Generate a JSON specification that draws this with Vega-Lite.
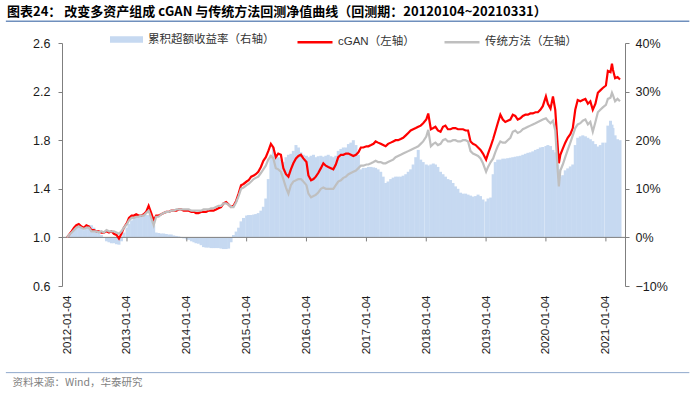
{
  "$schema": "https://vega.github.io/schema/vega-lite/v6.json",
  "width": 563,
  "height": 243,
  "autosize": {"type": "none"},
  "padding": {"left": 62, "top": 43, "right": 75, "bottom": 113},
  "title": {
    "text": "图表24：  改变多资产组成 cGAN 与传统方法回测净值曲线（回测期：20120104~20210331）",
    "anchor": "start", "frame": "group", "dx": -55, "dy": 3, "fontSize": 13, "fontWeight": "bold",
    "font": "Noto Sans CJK SC", "color": "#000000", "offset": 4
  },
  "config": {
    "view": {"stroke": null},
    "font": "Liberation Sans, Noto Sans CJK SC",
    "axis": {"labelFont": "Liberation Sans", "labelColor": "#1a1a1a", "grid": false, "title": null}
  },
  "data": {
    "values": [
      {"d":"2012-01-04","c":1.00,"t":1.00,"e":0.000},
      {"d":"2012-01-16","c":1.02,"t":1.02,"e":0.005},
      {"d":"2012-02-01","c":1.05,"t":1.04,"e":0.012},
      {"d":"2012-02-16","c":1.08,"t":1.06,"e":0.018},
      {"d":"2012-03-01","c":1.10,"t":1.08,"e":0.022},
      {"d":"2012-03-16","c":1.11,"t":1.09,"e":0.025},
      {"d":"2012-04-01","c":1.09,"t":1.08,"e":0.020},
      {"d":"2012-04-16","c":1.08,"t":1.07,"e":0.015},
      {"d":"2012-05-01","c":1.10,"t":1.08,"e":0.020},
      {"d":"2012-05-16","c":1.09,"t":1.08,"e":0.025},
      {"d":"2012-06-01","c":1.06,"t":1.05,"e":0.025},
      {"d":"2012-06-16","c":1.06,"t":1.05,"e":0.020},
      {"d":"2012-07-01","c":1.05,"t":1.05,"e":0.015},
      {"d":"2012-07-16","c":1.05,"t":1.04,"e":0.010},
      {"d":"2012-08-01","c":1.04,"t":1.05,"e":0.005},
      {"d":"2012-08-16","c":1.04,"t":1.04,"e":0.000},
      {"d":"2012-09-01","c":1.05,"t":1.06,"e":-0.008},
      {"d":"2012-09-16","c":1.04,"t":1.05,"e":-0.010},
      {"d":"2012-10-01","c":1.05,"t":1.05,"e":-0.012},
      {"d":"2012-10-16","c":1.03,"t":1.05,"e":-0.012},
      {"d":"2012-11-01","c":1.02,"t":1.04,"e":-0.014},
      {"d":"2012-11-16","c":0.99,"t":1.03,"e":-0.015},
      {"d":"2012-12-01","c":1.03,"t":1.05,"e":-0.008},
      {"d":"2012-12-16","c":1.08,"t":1.08,"e":0.010},
      {"d":"2013-01-04","c":1.12,"t":1.11,"e":0.020},
      {"d":"2013-01-16","c":1.16,"t":1.14,"e":0.028},
      {"d":"2013-02-01","c":1.18,"t":1.16,"e":0.035},
      {"d":"2013-02-16","c":1.18,"t":1.16,"e":0.040},
      {"d":"2013-03-01","c":1.19,"t":1.17,"e":0.043},
      {"d":"2013-03-16","c":1.18,"t":1.17,"e":0.044},
      {"d":"2013-04-01","c":1.18,"t":1.18,"e":0.045},
      {"d":"2013-04-16","c":1.19,"t":1.18,"e":0.046},
      {"d":"2013-05-01","c":1.21,"t":1.20,"e":0.046},
      {"d":"2013-05-16","c":1.26,"t":1.22,"e":0.046},
      {"d":"2013-06-01","c":1.20,"t":1.16,"e":0.040},
      {"d":"2013-06-16","c":1.14,"t":1.10,"e":0.025},
      {"d":"2013-07-01","c":1.18,"t":1.17,"e":0.010},
      {"d":"2013-07-16","c":1.18,"t":1.17,"e":0.009},
      {"d":"2013-08-01","c":1.19,"t":1.19,"e":0.008},
      {"d":"2013-08-16","c":1.20,"t":1.20,"e":0.008},
      {"d":"2013-09-01","c":1.21,"t":1.21,"e":0.007},
      {"d":"2013-09-16","c":1.21,"t":1.21,"e":0.006},
      {"d":"2013-10-01","c":1.22,"t":1.22,"e":0.006},
      {"d":"2013-10-16","c":1.22,"t":1.22,"e":0.004},
      {"d":"2013-11-01","c":1.22,"t":1.23,"e":0.003},
      {"d":"2013-11-16","c":1.23,"t":1.23,"e":0.002},
      {"d":"2013-12-01","c":1.23,"t":1.23,"e":0.001},
      {"d":"2013-12-16","c":1.22,"t":1.23,"e":-0.002},
      {"d":"2014-01-04","c":1.22,"t":1.23,"e":-0.004},
      {"d":"2014-01-16","c":1.22,"t":1.23,"e":-0.005},
      {"d":"2014-02-01","c":1.21,"t":1.22,"e":-0.008},
      {"d":"2014-02-16","c":1.21,"t":1.22,"e":-0.010},
      {"d":"2014-03-01","c":1.20,"t":1.22,"e":-0.012},
      {"d":"2014-03-16","c":1.20,"t":1.22,"e":-0.013},
      {"d":"2014-04-01","c":1.21,"t":1.22,"e":-0.016},
      {"d":"2014-04-16","c":1.21,"t":1.23,"e":-0.020},
      {"d":"2014-05-01","c":1.21,"t":1.23,"e":-0.021},
      {"d":"2014-05-16","c":1.22,"t":1.23,"e":-0.021},
      {"d":"2014-06-01","c":1.22,"t":1.24,"e":-0.022},
      {"d":"2014-06-16","c":1.22,"t":1.24,"e":-0.022},
      {"d":"2014-07-01","c":1.23,"t":1.25,"e":-0.022},
      {"d":"2014-07-16","c":1.24,"t":1.26,"e":-0.022},
      {"d":"2014-08-01","c":1.25,"t":1.26,"e":-0.023},
      {"d":"2014-08-16","c":1.28,"t":1.28,"e":-0.024},
      {"d":"2014-09-01","c":1.29,"t":1.28,"e":-0.024},
      {"d":"2014-09-16","c":1.27,"t":1.27,"e":-0.023},
      {"d":"2014-10-01","c":1.25,"t":1.25,"e":-0.010},
      {"d":"2014-10-16","c":1.26,"t":1.25,"e":0.005},
      {"d":"2014-11-01","c":1.30,"t":1.29,"e":0.012},
      {"d":"2014-11-16","c":1.36,"t":1.34,"e":0.020},
      {"d":"2014-12-01","c":1.43,"t":1.40,"e":0.033},
      {"d":"2014-12-16","c":1.44,"t":1.41,"e":0.040},
      {"d":"2015-01-04","c":1.46,"t":1.43,"e":0.045},
      {"d":"2015-01-16","c":1.47,"t":1.44,"e":0.046},
      {"d":"2015-02-01","c":1.50,"t":1.46,"e":0.046},
      {"d":"2015-02-16","c":1.51,"t":1.48,"e":0.047},
      {"d":"2015-03-01","c":1.52,"t":1.49,"e":0.048},
      {"d":"2015-03-16","c":1.54,"t":1.50,"e":0.050},
      {"d":"2015-04-01","c":1.58,"t":1.53,"e":0.055},
      {"d":"2015-04-16","c":1.63,"t":1.56,"e":0.063},
      {"d":"2015-05-01","c":1.66,"t":1.59,"e":0.080},
      {"d":"2015-05-16","c":1.71,"t":1.64,"e":0.120},
      {"d":"2015-06-01","c":1.77,"t":1.67,"e":0.170},
      {"d":"2015-06-16","c":1.74,"t":1.65,"e":0.185},
      {"d":"2015-07-01","c":1.66,"t":1.57,"e":0.170},
      {"d":"2015-07-16","c":1.69,"t":1.56,"e":0.165},
      {"d":"2015-08-01","c":1.68,"t":1.54,"e":0.160},
      {"d":"2015-08-16","c":1.57,"t":1.48,"e":0.155},
      {"d":"2015-09-01","c":1.52,"t":1.41,"e":0.165},
      {"d":"2015-09-16","c":1.50,"t":1.36,"e":0.170},
      {"d":"2015-10-01","c":1.56,"t":1.43,"e":0.172},
      {"d":"2015-10-16","c":1.61,"t":1.46,"e":0.178},
      {"d":"2015-11-01","c":1.65,"t":1.47,"e":0.190},
      {"d":"2015-11-16","c":1.67,"t":1.48,"e":0.185},
      {"d":"2015-12-01","c":1.68,"t":1.48,"e":0.175},
      {"d":"2015-12-16","c":1.65,"t":1.46,"e":0.170},
      {"d":"2016-01-04","c":1.62,"t":1.43,"e":0.168},
      {"d":"2016-01-16","c":1.51,"t":1.36,"e":0.165},
      {"d":"2016-02-01","c":1.47,"t":1.33,"e":0.168},
      {"d":"2016-02-16","c":1.48,"t":1.34,"e":0.170},
      {"d":"2016-03-01","c":1.50,"t":1.35,"e":0.165},
      {"d":"2016-03-16","c":1.53,"t":1.37,"e":0.167},
      {"d":"2016-04-01","c":1.57,"t":1.40,"e":0.168},
      {"d":"2016-04-16","c":1.61,"t":1.41,"e":0.166},
      {"d":"2016-05-01","c":1.59,"t":1.40,"e":0.168},
      {"d":"2016-05-16","c":1.58,"t":1.40,"e":0.170},
      {"d":"2016-06-01","c":1.57,"t":1.40,"e":0.167},
      {"d":"2016-06-16","c":1.56,"t":1.40,"e":0.165},
      {"d":"2016-07-01","c":1.60,"t":1.43,"e":0.168},
      {"d":"2016-07-16","c":1.66,"t":1.46,"e":0.178},
      {"d":"2016-08-01","c":1.68,"t":1.47,"e":0.182},
      {"d":"2016-08-16","c":1.68,"t":1.49,"e":0.185},
      {"d":"2016-09-01","c":1.69,"t":1.50,"e":0.185},
      {"d":"2016-09-16","c":1.69,"t":1.52,"e":0.192},
      {"d":"2016-10-01","c":1.68,"t":1.53,"e":0.195},
      {"d":"2016-10-16","c":1.67,"t":1.54,"e":0.200},
      {"d":"2016-11-01","c":1.68,"t":1.55,"e":0.190},
      {"d":"2016-11-16","c":1.70,"t":1.57,"e":0.170},
      {"d":"2016-12-01","c":1.74,"t":1.59,"e":0.140},
      {"d":"2016-12-16","c":1.74,"t":1.59,"e":0.143},
      {"d":"2017-01-04","c":1.75,"t":1.60,"e":0.143},
      {"d":"2017-01-16","c":1.75,"t":1.60,"e":0.145},
      {"d":"2017-02-01","c":1.76,"t":1.61,"e":0.145},
      {"d":"2017-02-16","c":1.77,"t":1.62,"e":0.144},
      {"d":"2017-03-01","c":1.79,"t":1.63,"e":0.143},
      {"d":"2017-03-16","c":1.78,"t":1.62,"e":0.140},
      {"d":"2017-04-01","c":1.77,"t":1.62,"e":0.135},
      {"d":"2017-04-16","c":1.76,"t":1.61,"e":0.125},
      {"d":"2017-05-01","c":1.75,"t":1.61,"e":0.112},
      {"d":"2017-05-16","c":1.77,"t":1.62,"e":0.115},
      {"d":"2017-06-01","c":1.78,"t":1.63,"e":0.120},
      {"d":"2017-06-16","c":1.79,"t":1.64,"e":0.123},
      {"d":"2017-07-01","c":1.80,"t":1.66,"e":0.125},
      {"d":"2017-07-16","c":1.80,"t":1.67,"e":0.125},
      {"d":"2017-08-01","c":1.81,"t":1.68,"e":0.125},
      {"d":"2017-08-16","c":1.82,"t":1.69,"e":0.127},
      {"d":"2017-09-01","c":1.84,"t":1.70,"e":0.130},
      {"d":"2017-09-16","c":1.86,"t":1.71,"e":0.135},
      {"d":"2017-10-01","c":1.88,"t":1.72,"e":0.140},
      {"d":"2017-10-16","c":1.89,"t":1.73,"e":0.150},
      {"d":"2017-11-01","c":1.90,"t":1.74,"e":0.165},
      {"d":"2017-11-16","c":1.91,"t":1.75,"e":0.180},
      {"d":"2017-12-01","c":1.92,"t":1.77,"e":0.160},
      {"d":"2017-12-16","c":1.94,"t":1.79,"e":0.155},
      {"d":"2018-01-04","c":1.97,"t":1.83,"e":0.150},
      {"d":"2018-01-16","c":2.02,"t":1.885,"e":0.148},
      {"d":"2018-02-01","c":1.89,"t":1.75,"e":0.150},
      {"d":"2018-02-16","c":1.90,"t":1.77,"e":0.152},
      {"d":"2018-03-01","c":1.91,"t":1.78,"e":0.150},
      {"d":"2018-03-16","c":1.88,"t":1.76,"e":0.145},
      {"d":"2018-04-01","c":1.87,"t":1.77,"e":0.135},
      {"d":"2018-04-16","c":1.91,"t":1.80,"e":0.130},
      {"d":"2018-05-01","c":1.92,"t":1.81,"e":0.125},
      {"d":"2018-05-16","c":1.89,"t":1.79,"e":0.120},
      {"d":"2018-06-01","c":1.89,"t":1.79,"e":0.118},
      {"d":"2018-06-16","c":1.90,"t":1.80,"e":0.112},
      {"d":"2018-07-01","c":1.90,"t":1.80,"e":0.105},
      {"d":"2018-07-16","c":1.89,"t":1.79,"e":0.100},
      {"d":"2018-08-01","c":1.89,"t":1.79,"e":0.092},
      {"d":"2018-08-16","c":1.89,"t":1.80,"e":0.090},
      {"d":"2018-09-01","c":1.88,"t":1.80,"e":0.090},
      {"d":"2018-09-16","c":1.88,"t":1.79,"e":0.088},
      {"d":"2018-10-01","c":1.79,"t":1.71,"e":0.086},
      {"d":"2018-10-16","c":1.77,"t":1.69,"e":0.084},
      {"d":"2018-11-01","c":1.76,"t":1.68,"e":0.085},
      {"d":"2018-11-16","c":1.74,"t":1.67,"e":0.088},
      {"d":"2018-12-01","c":1.72,"t":1.65,"e":0.085},
      {"d":"2018-12-16","c":1.69,"t":1.61,"e":0.078},
      {"d":"2019-01-04","c":1.64,"t":1.54,"e":0.074},
      {"d":"2019-01-16","c":1.69,"t":1.58,"e":0.080},
      {"d":"2019-02-01","c":1.75,"t":1.62,"e":0.082},
      {"d":"2019-02-16","c":1.81,"t":1.65,"e":0.130},
      {"d":"2019-03-01","c":1.87,"t":1.70,"e":0.155},
      {"d":"2019-03-16","c":1.94,"t":1.75,"e":0.160},
      {"d":"2019-04-01","c":2.01,"t":1.79,"e":0.160},
      {"d":"2019-04-16","c":1.97,"t":1.78,"e":0.162},
      {"d":"2019-05-01","c":1.95,"t":1.78,"e":0.162},
      {"d":"2019-05-16","c":1.96,"t":1.80,"e":0.163},
      {"d":"2019-06-01","c":1.97,"t":1.82,"e":0.164},
      {"d":"2019-06-16","c":2.01,"t":1.87,"e":0.165},
      {"d":"2019-07-01","c":2.00,"t":1.88,"e":0.166},
      {"d":"2019-07-16","c":1.97,"t":1.86,"e":0.167},
      {"d":"2019-08-01","c":1.98,"t":1.87,"e":0.168},
      {"d":"2019-08-16","c":2.00,"t":1.89,"e":0.170},
      {"d":"2019-09-01","c":2.01,"t":1.90,"e":0.172},
      {"d":"2019-09-16","c":2.01,"t":1.91,"e":0.174},
      {"d":"2019-10-01","c":2.02,"t":1.92,"e":0.175},
      {"d":"2019-10-16","c":2.02,"t":1.93,"e":0.177},
      {"d":"2019-11-01","c":2.03,"t":1.94,"e":0.180},
      {"d":"2019-11-16","c":2.03,"t":1.95,"e":0.182},
      {"d":"2019-12-01","c":2.05,"t":1.96,"e":0.185},
      {"d":"2019-12-16","c":2.08,"t":1.97,"e":0.186},
      {"d":"2020-01-04","c":2.16,"t":1.98,"e":0.188},
      {"d":"2020-01-16","c":2.10,"t":1.96,"e":0.190},
      {"d":"2020-02-01","c":2.06,"t":1.94,"e":0.188},
      {"d":"2020-02-16","c":2.16,"t":1.96,"e":0.180},
      {"d":"2020-03-01","c":2.05,"t":1.88,"e":0.175},
      {"d":"2020-03-16","c":1.75,"t":1.55,"e":0.150},
      {"d":"2020-03-23","c":1.61,"t":1.42,"e":0.140},
      {"d":"2020-04-01","c":1.68,"t":1.55,"e":0.125},
      {"d":"2020-04-16","c":1.73,"t":1.60,"e":0.128},
      {"d":"2020-05-01","c":1.78,"t":1.66,"e":0.138},
      {"d":"2020-05-16","c":1.82,"t":1.72,"e":0.142},
      {"d":"2020-06-01","c":1.85,"t":1.78,"e":0.146},
      {"d":"2020-06-16","c":1.90,"t":1.84,"e":0.150},
      {"d":"2020-07-01","c":2.05,"t":1.90,"e":0.190},
      {"d":"2020-07-16","c":2.13,"t":1.93,"e":0.205},
      {"d":"2020-08-01","c":2.12,"t":1.94,"e":0.208},
      {"d":"2020-08-16","c":2.13,"t":1.96,"e":0.210},
      {"d":"2020-09-01","c":2.14,"t":1.97,"e":0.208},
      {"d":"2020-09-16","c":2.10,"t":1.93,"e":0.205},
      {"d":"2020-10-01","c":2.12,"t":1.95,"e":0.202},
      {"d":"2020-10-16","c":2.05,"t":1.87,"e":0.198},
      {"d":"2020-11-01","c":2.10,"t":1.95,"e":0.192},
      {"d":"2020-11-16","c":2.19,"t":2.03,"e":0.187},
      {"d":"2020-12-01","c":2.21,"t":2.05,"e":0.190},
      {"d":"2020-12-16","c":2.23,"t":2.07,"e":0.195},
      {"d":"2021-01-04","c":2.25,"t":2.09,"e":0.195},
      {"d":"2021-01-16","c":2.37,"t":2.14,"e":0.230},
      {"d":"2021-02-01","c":2.36,"t":2.15,"e":0.240},
      {"d":"2021-02-10","c":2.43,"t":2.19,"e":0.232},
      {"d":"2021-02-16","c":2.38,"t":2.17,"e":0.225},
      {"d":"2021-03-01","c":2.31,"t":2.12,"e":0.210},
      {"d":"2021-03-16","c":2.32,"t":2.14,"e":0.202},
      {"d":"2021-03-31","c":2.30,"t":2.12,"e":0.200}
    ],
    "format": {"parse": {"d": "date:'%Y-%m-%d'"}}
  },
  "layer": [
    {
      "mark": {"type": "bar", "width": 3},
      "encoding": {
        "x": {
          "field": "d", "type": "temporal",
          "scale": {"domain": [{"year": 2012, "month": 1, "date": 4}, {"year": 2021, "month": 3, "date": 31}]},
          "axis": {
            "values": [
              {"year": 2012, "month": 1, "date": 4}, {"year": 2013, "month": 1, "date": 4},
              {"year": 2014, "month": 1, "date": 4}, {"year": 2015, "month": 1, "date": 4},
              {"year": 2016, "month": 1, "date": 4}, {"year": 2017, "month": 1, "date": 4},
              {"year": 2018, "month": 1, "date": 4}, {"year": 2019, "month": 1, "date": 4},
              {"year": 2020, "month": 1, "date": 4}, {"year": 2021, "month": 1, "date": 4}
            ],
            "format": "%Y-%m-%d", "labelAngle": -90, "domain": false, "ticks": false,
            "labelPadding": 9, "labelFontSize": 11.5, "labelAlign": "right", "labelBaseline": "middle",
            "labelOverlap": false
          }
        },
        "y": {
          "field": "e", "type": "quantitative",
          "scale": {"domain": [-0.1, 0.4], "nice": false, "zero": true},
          "axis": {
            "orient": "right", "values": [-0.1, 0, 0.1, 0.2, 0.3, 0.4], "format": ".0%",
            "domainColor": "#7f7f7f", "tickColor": "#7f7f7f", "tickSize": 4, "labelPadding": 6,
            "labelFontSize": 12.5
          }
        },
        "fill": {
          "datum": "累积超额收益率（右轴）", "type": "nominal",
          "scale": {"domain": ["累积超额收益率（右轴）"], "range": ["#c6d9f1"]},
          "legend": {
            "orient": "none", "legendX": 48, "legendY": -20, "title": null,
            "symbolType": "M-1,-0.2H1V0.2H-1Z", "symbolSize": 1089, "symbolStrokeWidth": 0,
            "labelFont": "Noto Sans CJK SC", "labelFontSize": 11.5, "labelColor": "#333333", "labelOffset": 5
          }
        }
      }
    },
    {
      "layer": [
        {
          "mark": {"type": "rule", "color": "#7f7f7f", "strokeWidth": 1},
          "data": {"values": [{}]},
          "encoding": {"y": {"datum": 1, "type": "quantitative", "scale": {"domain": [0.6, 2.6], "nice": false}}}
        },
        {
          "mark": {"type": "rule", "color": "#7f7f7f", "strokeWidth": 1},
          "data": {
            "values": [
              {"d": "2013-01-04"}, {"d": "2014-01-04"}, {"d": "2015-01-04"}, {"d": "2016-01-04"},
              {"d": "2017-01-04"}, {"d": "2018-01-04"}, {"d": "2019-01-04"}, {"d": "2020-01-04"},
              {"d": "2021-01-04"}
            ],
            "format": {"parse": {"d": "date:'%Y-%m-%d'"}}
          },
          "encoding": {
            "x": {"field": "d", "type": "temporal"},
            "y": {"datum": 1, "type": "quantitative", "scale": {"domain": [0.6, 2.6], "nice": false}},
            "y2": {"datum": 0.967}
          }
        },
        {
          "mark": {"type": "line", "strokeWidth": 2.2, "interpolate": "linear"},
          "encoding": {
            "x": {"field": "d", "type": "temporal"},
            "y": {
              "field": "c", "type": "quantitative",
              "scale": {"domain": [0.6, 2.6], "nice": false},
              "axis": {
                "orient": "left", "values": [0.6, 1.0, 1.4, 1.8, 2.2, 2.6], "format": ".1f",
                "domainColor": "#7f7f7f", "tickColor": "#7f7f7f", "tickSize": 4, "labelPadding": 8,
                "labelFontSize": 12.5
              }
            },
            "stroke": {
              "datum": "cGAN（左轴）", "type": "nominal",
              "scale": {"domain": ["cGAN（左轴）", "传统方法（左轴）"], "range": ["#ff0000", "#bfbfbf"]},
              "legend": {
                "orient": "none", "legendX": 234, "legendY": -20, "title": null, "direction": "horizontal",
                "symbolType": "stroke", "symbolSize": 1225, "symbolStrokeWidth": 2.5,
                "labelFont": "Liberation Sans, Noto Sans CJK SC", "labelFontSize": 11.5, "labelColor": "#333333",
                "labelOffset": 4, "columnPadding": 24
              }
            }
          }
        },
        {
          "mark": {"type": "line", "strokeWidth": 2.2, "interpolate": "linear"},
          "encoding": {
            "x": {"field": "d", "type": "temporal"},
            "y": {"field": "t", "type": "quantitative", "scale": {"domain": [0.6, 2.6], "nice": false}},
            "stroke": {"datum": "传统方法（左轴）", "type": "nominal"}
          }
        },
        {
          "mark": {"type": "rule", "color": "#6f8fbd", "strokeWidth": 1.5},
          "data": {"values": [{}]},
          "encoding": {
            "x": {"datum": {"year": 2010, "month": 12, "date": 27}, "type": "temporal"},
            "x2": {"datum": {"year": 2022, "month": 5, "date": 28}},
            "y": {"datum": 2.78, "type": "quantitative", "scale": {"domain": [0.6, 2.6], "nice": false}}
          }
        },
        {
          "mark": {"type": "rule", "color": "#8fa8cc", "strokeWidth": 1},
          "data": {"values": [{}]},
          "encoding": {
            "x": {"datum": {"year": 2010, "month": 12, "date": 27}, "type": "temporal"},
            "x2": {"datum": {"year": 2022, "month": 5, "date": 28}},
            "y": {"datum": -0.113, "type": "quantitative", "scale": {"domain": [0.6, 2.6], "nice": false}}
          }
        },
        {
          "mark": {"type": "text", "align": "left", "baseline": "middle", "font": "Noto Sans CJK SC", "fontSize": 10.5, "color": "#7f7f7f"},
          "data": {"values": [{"src": "资料来源：Wind，华泰研究"}]},
          "encoding": {
            "x": {"datum": {"year": 2011, "month": 2, "date": 5}, "type": "temporal"},
            "y": {"datum": -0.2017, "type": "quantitative", "scale": {"domain": [0.6, 2.6], "nice": false}},
            "text": {"field": "src"}
          }
        }
      ]
    }
  ],
  "resolve": {"scale": {"y": "independent"}}
}
